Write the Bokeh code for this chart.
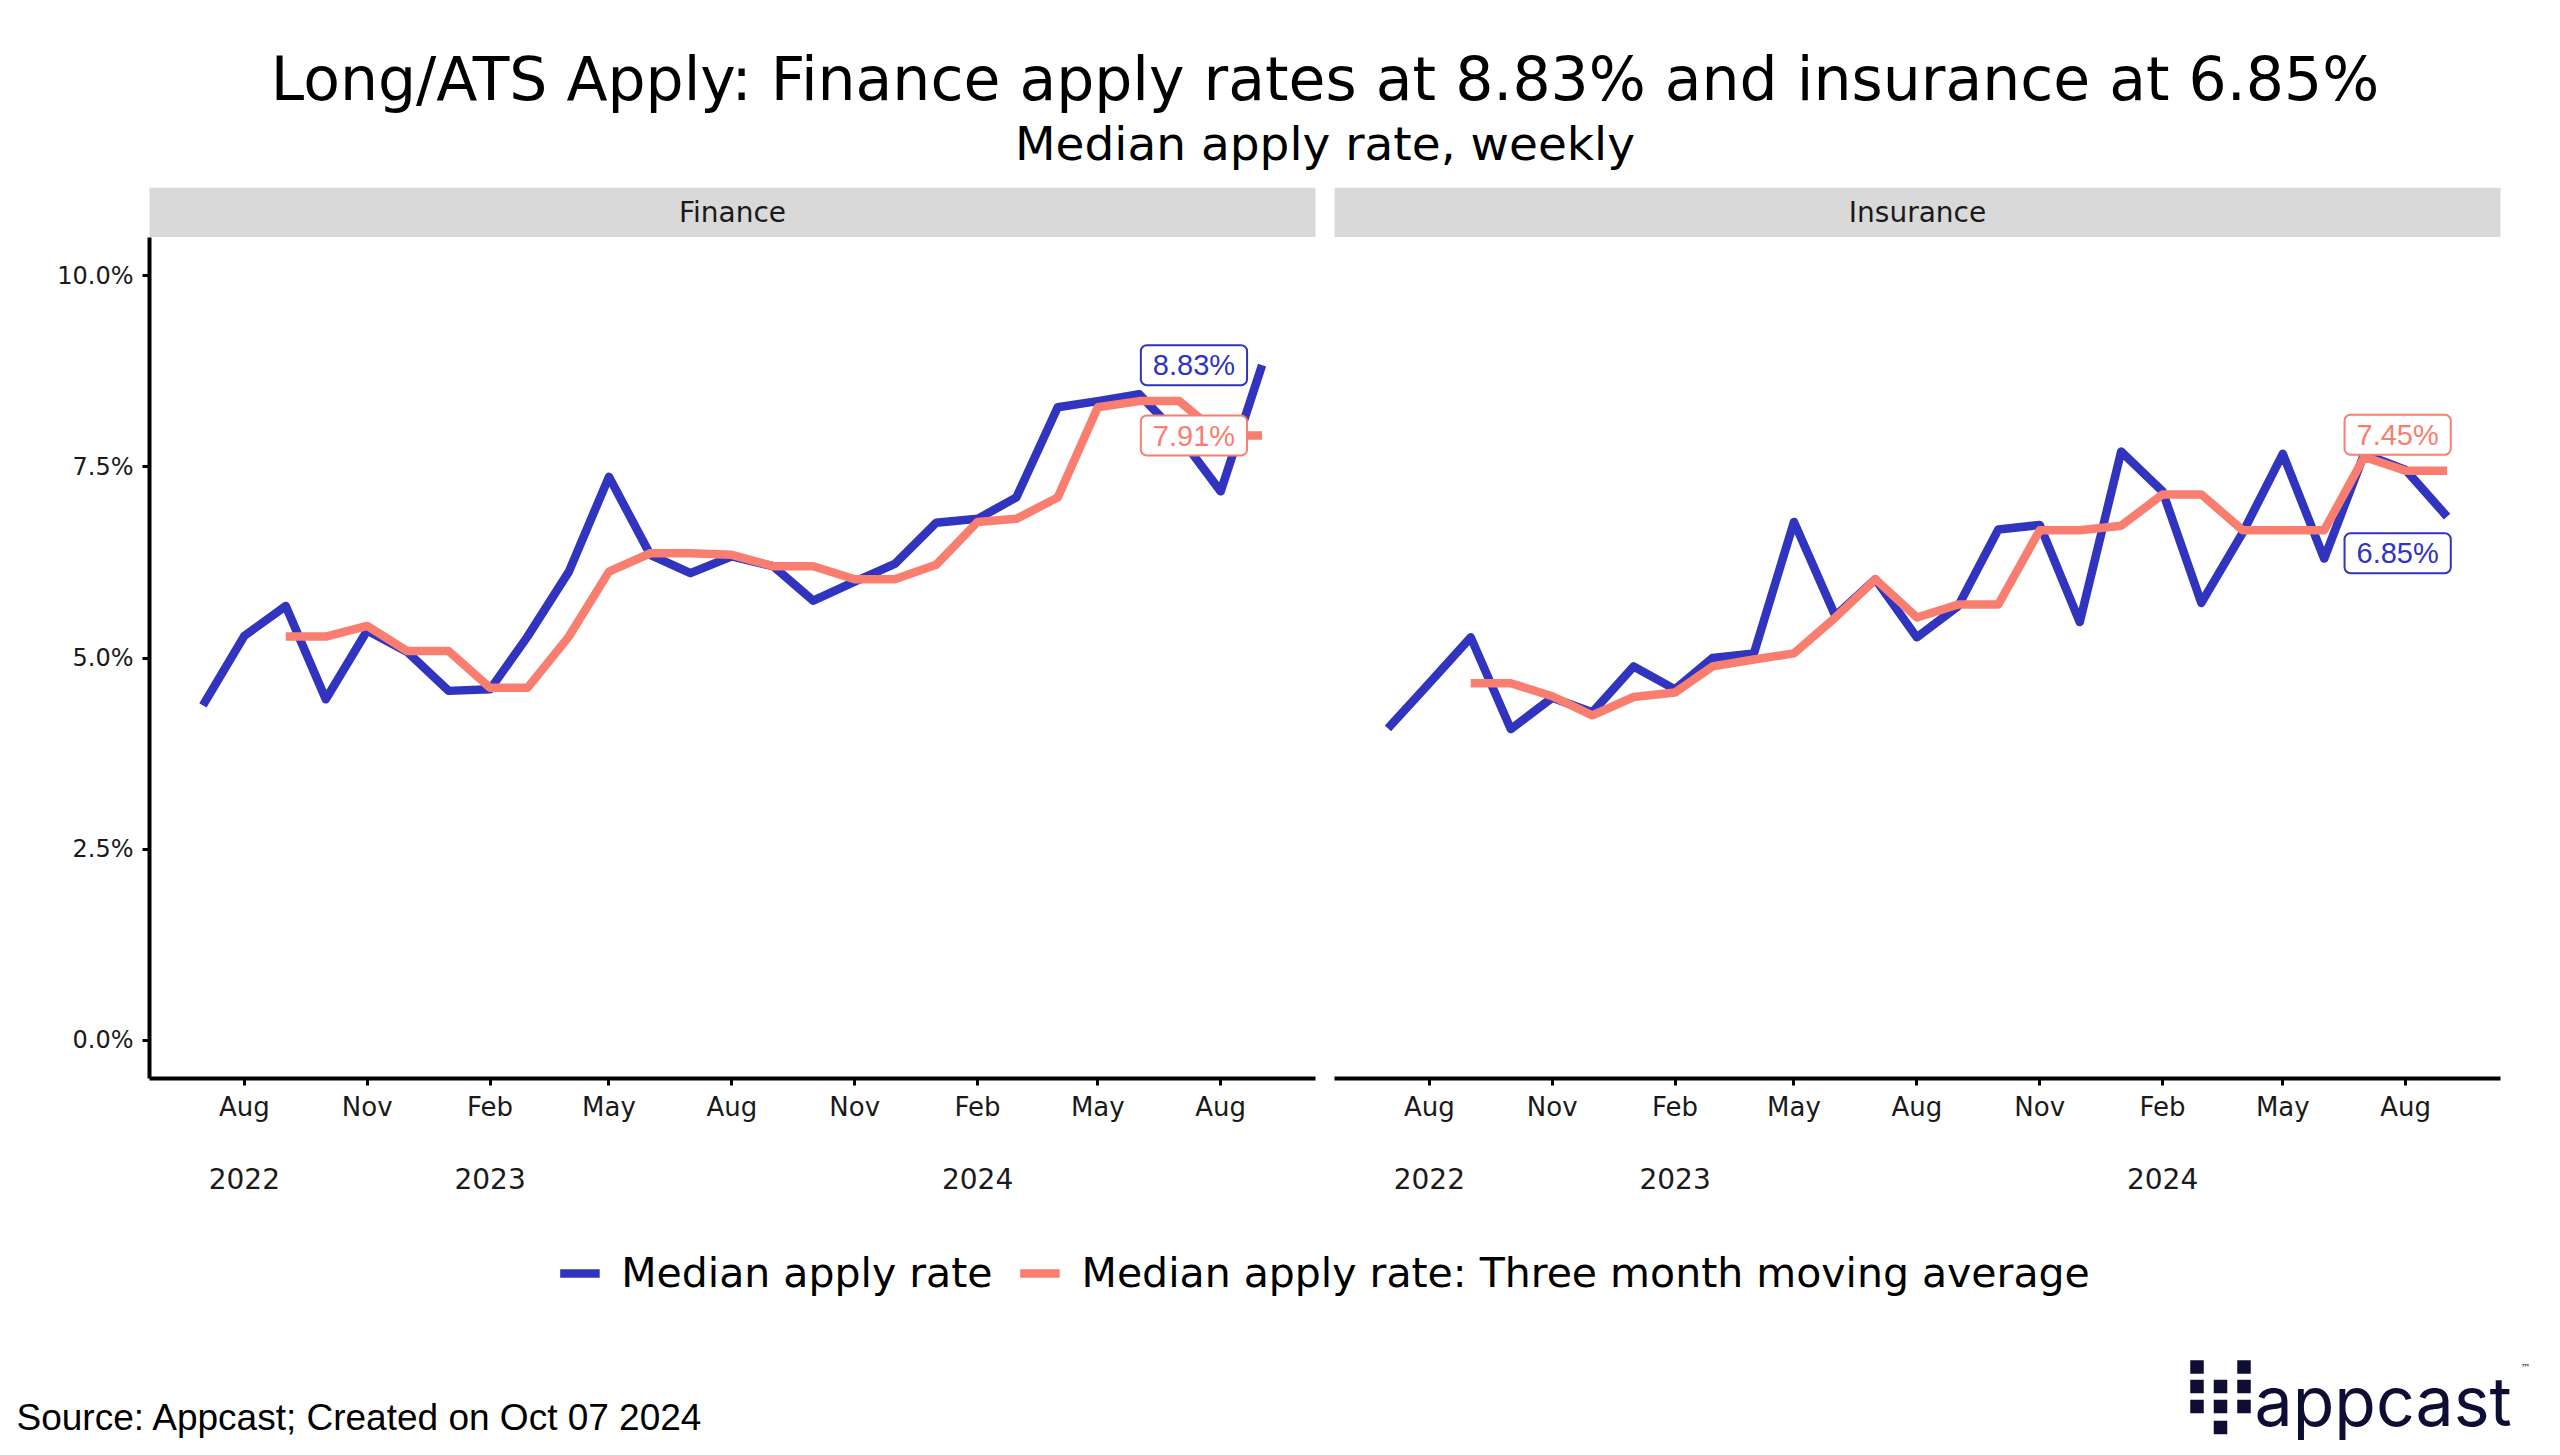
import pandas as pd
from bokeh.plotting import figure
from bokeh.models import (Range1d, LinearAxis, DatetimeAxis, FixedTicker, DatetimeTickFormatter,
                          PrintfTickFormatter, Label, Legend, LegendItem, ColumnDataSource)
from bokeh.layouts import column, row
from bokeh.embed import file_html
from bokeh.resources import INLINE

# ---------------- data ----------------
months = ["2022-07-01", "2022-08-01", "2022-09-01", "2022-10-01", "2022-11-01", "2022-12-01",
          "2023-01-01", "2023-02-01", "2023-03-01", "2023-04-01", "2023-05-01", "2023-06-01",
          "2023-07-01", "2023-08-01", "2023-09-01", "2023-10-01", "2023-11-01", "2023-12-01",
          "2024-01-01", "2024-02-01", "2024-03-01", "2024-04-01", "2024-05-01", "2024-06-01",
          "2024-07-01", "2024-08-01", "2024-09-01"]
finance_rate = [4.38, 5.29, 5.68, 4.46, 5.36, 5.08, 4.57, 4.59, 5.28, 6.13, 7.37, 6.35, 6.11,
                6.33, 6.20, 5.75, 6.00, 6.23, 6.77, 6.82, 7.10, 8.28, 8.36, 8.45, 7.90, 7.18, 8.83]
finance_ma = [5.28, 5.28, 5.42, 5.09, 5.09, 4.61, 4.61, 5.28, 6.13, 6.37, 6.37, 6.35, 6.20,
              6.20, 6.03, 6.03, 6.22, 6.78, 6.82, 7.10, 8.28, 8.36, 8.36, 7.91, 7.91]
insurance_rate = [4.08, 4.67, 5.27, 4.07, 4.48, 4.29, 4.89, 4.59, 5.00, 5.06, 6.78, 5.55, 6.03,
                  5.27, 5.68, 6.68, 6.74, 5.47, 7.70, 7.18, 5.72, 6.64, 7.67, 6.30, 7.67, 7.46, 6.85]
insurance_ma = [4.67, 4.67, 4.50, 4.25, 4.49, 4.55, 4.89, 4.98, 5.06, 5.53, 6.03, 5.53, 5.70,
                5.70, 6.67, 6.67, 6.73, 7.14, 7.14, 6.67, 6.67, 6.67, 7.63, 7.45, 7.45]
ma_months = months[2:]

month_ticks = ["2022-08-01", "2022-11-01", "2023-02-01", "2023-05-01", "2023-08-01",
               "2023-11-01", "2024-02-01", "2024-05-01", "2024-08-01"]
year_ticks = ["2022-08-01", "2023-02-01", "2024-02-01"]
y_ticks = [0, 2.5, 5, 7.5, 10]

TITLE = "Long/ATS Apply: Finance apply rates at 8.83% and insurance at 6.85%"
SUBTITLE = "Median apply rate, weekly"
PANELS = ["Finance", "Insurance"]
LEGEND_LABELS = ["Median apply rate", "Median apply rate: Three month moving average"]
SOURCE = "Source: Appcast; Created on Oct 07 2024"

# ---------------- style / layout ----------------
BLUE = "#3034BE"
SALMON = "#FA7E70"
NAVY = "#0E0E35"
W = 2560
FRAME_L = 149          # finance frame left edge
PANEL_W = 1166
GAP = 19
FIN_W = FRAME_L + PANEL_W + 10
INS_W = W - FIN_W
INS_L = 9
RIGHT_M = W - FRAME_L - 2 * PANEL_W - GAP
CENTER = FRAME_L + (2 * PANEL_W + GAP) / 2
H_HDR, H_STRIP, H_PANEL, H_LEG, H_FOOT = 187, 50, 978, 115, 125
FRAME_H = 841
LW = 8.5


def ms(s):
    return pd.Timestamp(s).value / 1e6


X_START, X_END = ms("2022-05-22"), ms("2024-10-11")


def blank(width, height, xr, yr, l=0, r=0):
    p = figure(width=width, height=height, x_range=xr, y_range=yr, toolbar_location=None,
               output_backend="svg", x_axis_type=None, y_axis_type=None,
               min_border_left=l, min_border_right=r, min_border_top=0, min_border_bottom=0,
               frame_align=False)
    p.outline_line_color = None
    p.background_fill_color = "white"
    p.border_fill_color = "white"
    return p


# header
hdr = blank(W, H_HDR, Range1d(0, W), Range1d(H_HDR, 0))
hdr.add_layout(Label(x=CENTER, y=78, text=TITLE, text_align="center", text_baseline="middle",
                     text_font="DejaVu Sans", text_font_size="60px", text_color="#000000"))
hdr.add_layout(Label(x=CENTER, y=143, text=SUBTITLE, text_align="center", text_baseline="middle",
                     text_font="DejaVu Sans", text_font_size="47px", text_color="#000000"))

# strips
strip = blank(W, H_STRIP, Range1d(0, W), Range1d(H_STRIP, 0))
lefts = [FRAME_L, FIN_W + INS_L]
strip.quad(left=lefts, right=[l + PANEL_W for l in lefts], top=[0, 0], bottom=[H_STRIP, H_STRIP],
           fill_color="#D9D9D9", line_color=None)
for l, name in zip(lefts, PANELS):
    strip.add_layout(Label(x=l + PANEL_W / 2, y=25, text=name, text_align="center",
                           text_baseline="middle", text_font="DejaVu Sans",
                           text_font_size="28px", text_color="#1A1A1A"))


def panel(rate, ma, width, left, right, show_y, labels):
    p = figure(width=width, height=H_PANEL, x_range=Range1d(X_START, X_END),
               y_range=Range1d(-0.5, 10.5), toolbar_location=None, output_backend="svg",
               x_axis_type=None, y_axis_type=None, min_border_left=left, min_border_right=right,
               min_border_top=0, min_border_bottom=H_PANEL - FRAME_H, frame_align=False)
    p.outline_line_color = None
    p.background_fill_color = "white"
    p.border_fill_color = "white"

    xa = DatetimeAxis(ticker=FixedTicker(ticks=[ms(t) for t in month_ticks], minor_ticks=[]),
                      formatter=DatetimeTickFormatter(days="%b", months="%b", years="%b"))
    ya_ = DatetimeAxis(ticker=FixedTicker(ticks=[ms(t) for t in year_ticks], minor_ticks=[]),
                       formatter=DatetimeTickFormatter(days="%Y", months="%Y", years="%Y"))
    for ax in (xa, ya_):
        ax.major_label_text_font = "DejaVu Sans"
        ax.major_label_text_color = "#1A1A1A"
        ax.minor_tick_in = 0
        ax.minor_tick_out = 0
        ax.major_tick_in = 0
    xa.major_label_text_font_size = "26px"
    ya_.major_label_text_font_size = "28px"
    xa.axis_line_width = 4
    xa.axis_line_color = "#000000"
    xa.major_tick_out = 7
    xa.major_tick_line_width = 3
    xa.major_label_standoff = 6
    ya_.axis_line_color = None
    ya_.major_tick_line_color = None
    ya_.major_tick_out = 0
    ya_.major_label_standoff = 43
    p.add_layout(xa, "below")
    p.add_layout(ya_, "below")

    if show_y:
        yax = LinearAxis(ticker=FixedTicker(ticks=y_ticks, minor_ticks=[]),
                         formatter=PrintfTickFormatter(format="%.1f%%"))
        yax.axis_line_width = 4
        yax.axis_line_color = "#000000"
        yax.major_tick_out = 7
        yax.major_tick_in = 0
        yax.major_tick_line_width = 3
        yax.minor_tick_in = 0
        yax.minor_tick_out = 0
        yax.major_label_standoff = 9
        yax.major_label_text_font = "DejaVu Sans"
        yax.major_label_text_font_size = "24px"
        yax.major_label_text_color = "#1A1A1A"
        p.add_layout(yax, "left")

    src = ColumnDataSource(dict(x=[ms(m) for m in months], y=rate))
    srcm = ColumnDataSource(dict(x=[ms(m) for m in ma_months], y=ma))
    p.line("x", "y", source=src, line_color=BLUE, line_width=LW, line_join="round")
    p.line("x", "y", source=srcm, line_color=SALMON, line_width=LW, line_join="round")

    last = ms(months[-1])
    for val, color, dx_days, dy in labels:
        p.add_layout(Label(x=last + dx_days * 86400000, y=val + dy, text=f"{val:.2f}%",
                           text_align="center", text_baseline="middle",
                           text_font="Liberation Sans", text_font_size="29px", text_color=color,
                           background_fill_color="white", border_line_color=color,
                           border_line_width=2, border_radius=6,
                           padding=dict(left=12, right=12, top=4, bottom=4)))
    return p


fin = panel(finance_rate, finance_ma, FIN_W, FRAME_L, FIN_W - FRAME_L - PANEL_W, True,
            [(finance_rate[-1], BLUE, -51, 0.0), (finance_ma[-1], SALMON, -51, 0.0)])
ins = panel(insurance_rate, insurance_ma, INS_W, INS_L, INS_W - INS_L - PANEL_W, False,
            [(insurance_ma[-1], SALMON, -37, 0.47), (insurance_rate[-1], BLUE, -37, -0.48)])

# legend
leg = blank(W, H_LEG, Range1d(0, 1), Range1d(0, 1), l=FRAME_L, r=RIGHT_M)
r1 = leg.line(x=[-10, -9], y=[-10, -9], line_color=BLUE, line_width=LW)
r2 = leg.line(x=[-10, -9], y=[-10, -9], line_color=SALMON, line_width=LW)
legend = Legend(items=[LegendItem(label=LEGEND_LABELS[0], renderers=[r1]),
                       LegendItem(label=LEGEND_LABELS[1], renderers=[r2])],
                orientation="horizontal", location="center",
                label_text_font="DejaVu Sans", label_text_font_size="41px",
                label_text_color="#000000", glyph_width=40, glyph_height=40,
                label_standoff=22, spacing=27, padding=0, margin=0,
                border_line_color=None, background_fill_alpha=0)
leg.add_layout(legend, "center")

# footer
ft = blank(W, H_FOOT, Range1d(0, W), Range1d(H_FOOT, 0))
ft.add_layout(Label(x=16, y=87, text=SOURCE, text_align="left", text_baseline="middle",
                    text_font="Liberation Sans", text_font_size="37px", text_color="#000000"))
logo_x = [2196.5, 2243.5, 2196.5, 2220, 2243.5, 2196.5, 2220, 2243.5, 2220]
logo_y = [36.5, 36.5, 56, 56, 56, 76, 76, 76, 97]
ft.rect(x=logo_x, y=logo_y, width=13.5, height=13.5, fill_color=NAVY, line_color=None)
ft.add_layout(Label(x=2254, y=70, text="appcast", text_align="left", text_baseline="middle",
                    text_font="Inter", text_font_size="68px", text_color=NAVY))
ft.add_layout(Label(x=2520, y=37, text="™", text_align="left", text_baseline="middle",
                    text_font="DejaVu Sans", text_font_size="10px", text_color=NAVY))

layout = column(hdr, strip, row(fin, ins), leg, ft)
open("out.html", "w").write(file_html(layout, INLINE))
